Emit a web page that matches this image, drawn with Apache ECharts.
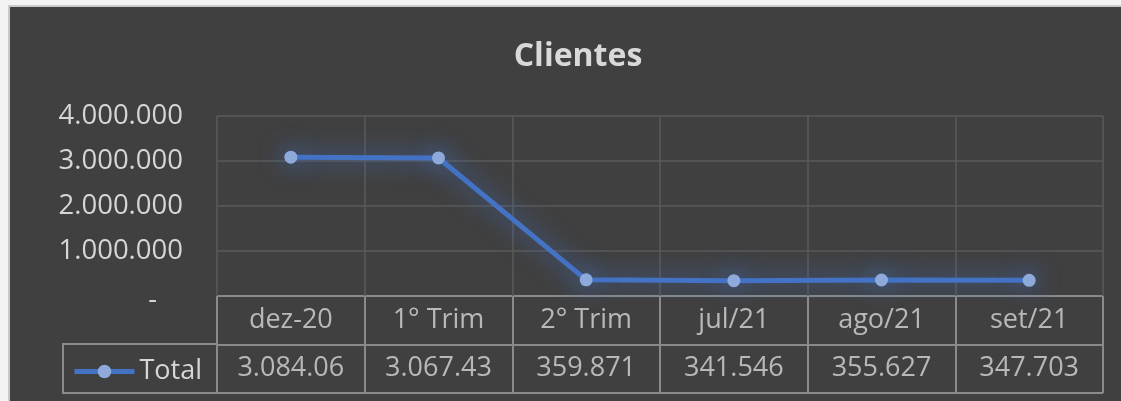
<!DOCTYPE html>
<html>
<head>
<meta charset="utf-8">
<script src="https://cdn.jsdelivr.net/npm/echarts@6/dist/echarts.min.js"></script>
<style>
  html, body { margin: 0; padding: 0; background: #f3f3f3; }
  #bg { position: absolute; left: 8px; top: 5px; width: 1113px; height: 396px; background: #404040; border-left: 2px solid #c9c9c9; border-top: 2px solid #c9c9c9; box-sizing: border-box; }
  #chart { position: absolute; left: 0; top: 0; width: 1121px; height: 401px; }
</style>
</head>
<body>
<div id="bg"></div>
<div id="chart"></div>
<script>
const title = 'Clientes';
const seriesName = 'Total';
const categories = ['dez-20', '1° Trim', '2° Trim', 'jul/21', 'ago/21', 'set/21'];
const values = [3084065, 3067435, 359871, 341546, 355627, 347703];
const yTicks = [0, 1000000, 2000000, 3000000, 4000000];

const FONT = '"Open Sans", "Noto Sans", sans-serif';
const TEXT = '#d6d6d6';
const fmt = v => String(v).replace(/\B(?=(\d{3})+(?!\d))/g, '.');

const rows = ['hdr', seriesName];
const tableData = [];
categories.forEach((c, i) => {
  tableData.push({ value: [i, 'hdr'], text: c });
  tableData.push({ value: [i, seriesName], text: fmt(values[i]) });
});

const chart = echarts.init(document.getElementById('chart'), null, { renderer: 'canvas' });
chart.setOption({
  animation: false,
  backgroundColor: 'transparent',
  title: {
    text: title, left: 573, top: 36, textAlign: 'center',
    textStyle: { color: '#d9d9d9', fontFamily: FONT, fontSize: 32, fontWeight: 'bold' }
  },
  legend: {
    data: [seriesName], left: 67, top: 353, itemWidth: 60, itemHeight: 17, itemGap: 0,
    textStyle: { color: TEXT, fontFamily: FONT, fontSize: 27 },
    lineStyle: { width: 5, color: '#4472c4', shadowBlur: 0 },
    itemStyle: { color: '#8eaadb', shadowBlur: 0 },
    selectedMode: false
  },
  grid: [
    { left: 217, right: 18, top: 116, bottom: 105 },
    { left: 217, right: 18, top: 296, bottom: 8 }
  ],
  xAxis: [
    {
      type: 'category', gridIndex: 0, data: categories, boundaryGap: true,
      axisLine: { show: false }, axisTick: { show: false }, axisLabel: { show: false },
      splitLine: { show: true, lineStyle: { color: '#5a5a5a', width: 1.5 } }
    },
    {
      type: 'category', gridIndex: 1, data: categories, boundaryGap: true,
      axisLine: { show: false }, axisTick: { show: false }, axisLabel: { show: false },
      splitLine: { show: true, lineStyle: { color: '#8a8a8a', width: 2 } }
    }
  ],
  yAxis: [
    {
      type: 'value', gridIndex: 0, min: 0, max: 4000000, interval: 1000000,
      axisLine: { show: false }, axisTick: { show: false },
      splitLine: { show: true, lineStyle: { color: '#5a5a5a', width: 1.5 } },
      axisLabel: {
        margin: 34, color: TEXT, fontFamily: FONT, fontSize: 27.5,
        formatter: v => v === 0 ? '{d|-}' : fmt(v),
        rich: { d: { color: TEXT, fontFamily: FONT, fontSize: 27, padding: [8, 26, 0, 0] } }
      }
    },
    {
      type: 'category', gridIndex: 1, data: rows, inverse: true, boundaryGap: true,
      axisLine: { show: false }, axisTick: { show: false }, axisLabel: { show: false },
      splitLine: { show: true, lineStyle: { color: '#8a8a8a', width: 2 } }
    }
  ],
  graphic: [
    { type: 'rect', shape: { x: 63, y: 344, width: 154, height: 49 }, style: { fill: 'none', stroke: '#8a8a8a', lineWidth: 2 }, z: 10 }
  ],
  series: [
    {
      name: seriesName, type: 'line', xAxisIndex: 0, yAxisIndex: 0, data: values,
      symbol: 'circle', symbolSize: 13,
      lineStyle: { color: '#4472c4', width: 5, shadowBlur: 24, shadowColor: 'rgba(68,114,196,1)' },
      itemStyle: { color: '#8eaadb', shadowBlur: 24, shadowColor: 'rgba(68,114,196,1)' },
      z: 5
    },
    {
      name: 'table', type: 'scatter', xAxisIndex: 1, yAxisIndex: 1, symbolSize: 0,
      data: tableData,
      label: {
        show: true, position: 'inside', color: TEXT, fontFamily: FONT, fontSize: 27,
        width: 112, overflow: 'truncate', ellipsis: '', align: 'center',
        formatter: p => p.data.text
      },
      silent: true
    }
  ]
});
</script>
</body>
</html>
